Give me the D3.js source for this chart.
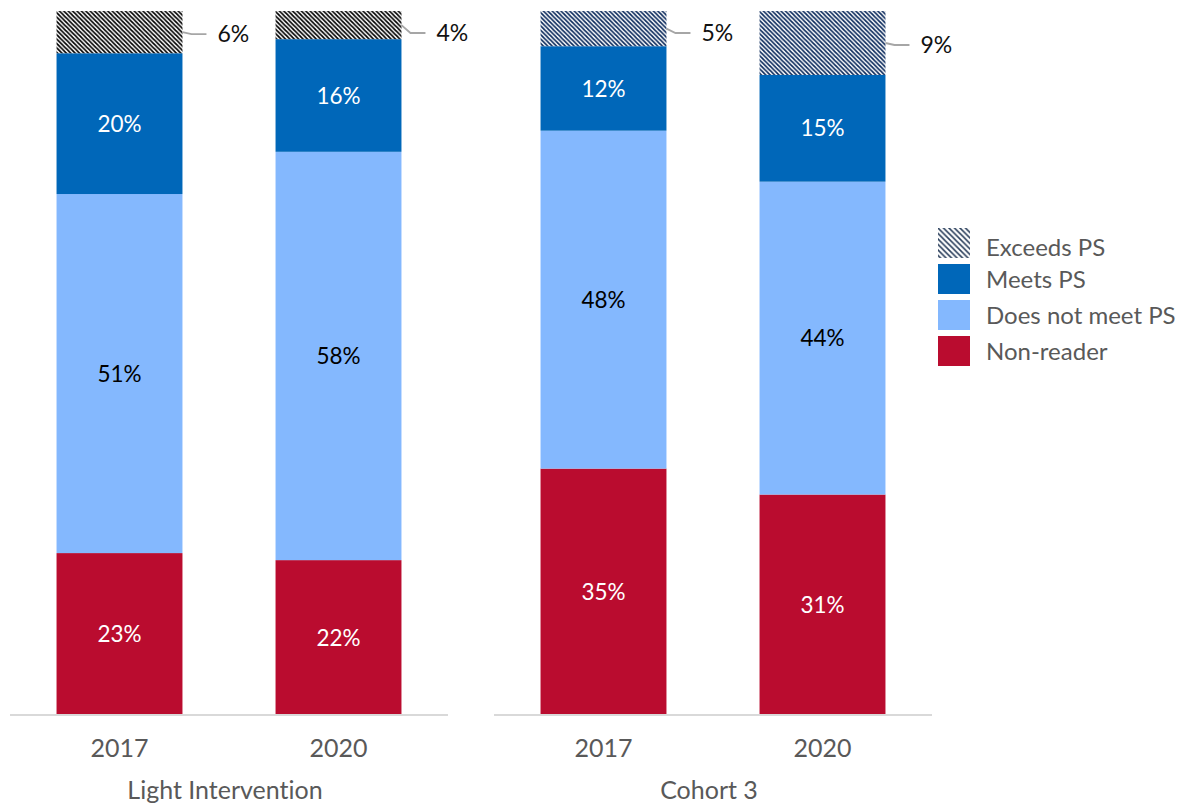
<!DOCTYPE html>
<html>
<head>
<meta charset="utf-8">
<script src="https://cdn.jsdelivr.net/npm/d3@7"></script>
<style>
  html, body { margin: 0; padding: 0; background: #fff; }
  svg { display: block; font-family: "Lato", "Noto Sans", sans-serif; font-variant-ligatures: none; font-feature-settings: "liga" 0; }
</style>
</head>
<body>
<svg id="chart" width="1188" height="805"></svg>
<script>
// Reading proficiency shares by group and year (percent)
const groups = ["Light Intervention", "Cohort 3"];
const years = ["2017", "2020"];
const levels = ["Non-reader", "Does not meet PS", "Meets PS", "Exceeds PS"];

const nonReader   = [[23, 22], [35, 31]];
const doesNotMeet = [[51, 58], [48, 44]];
const meets       = [[20, 16], [12, 15]];
const exceeds     = [[6, 4], [5, 9]];

const legendOrder = ["Exceeds PS", "Meets PS", "Does not meet PS", "Non-reader"];

const fills = {
  "Non-reader": "#ba0c2f",
  "Does not meet PS": "#84b8fe",
  "Meets PS": "#0067b9"
};
const labelInk = {
  "Non-reader": "#ffffff",
  "Does not meet PS": "#000000",
  "Meets PS": "#ffffff"
};
const hatchInk = ["#000000", "#0b2a5c"];

const svg = d3.select("#chart");
const defs = svg.append("defs");

// diagonal hatch for the "Exceeds" segment, one per panel ink + one for legend
function hatch(id, ink, size, sw) {
  const p = defs.append("pattern")
    .attr("id", id)
    .attr("patternUnits", "userSpaceOnUse")
    .attr("width", size).attr("height", size);
  p.append("rect").attr("width", size).attr("height", size).attr("fill", "#fff");
  p.append("path")
    .attr("d", `M0,0L${size},${size}M${-1},${size - 1}L1,${size + 1}M${size - 1},-1L${size + 1},1`)
    .attr("stroke", ink).attr("stroke-width", sw);
}
hatch("hatch0", hatchInk[0], 4.4, 1.7);
hatch("hatch1", hatchInk[1], 4.4, 1.7);
hatch("hatchLegend", "#2b3f5c", 5.5, 1.6);

const y = d3.scaleLinear().domain([0, 1]).range([715, 11]);

const panels = [
  { x0: 10, x1: 448 },
  { x0: 494, x1: 932 }
];

const stack = d3.stack()
  .keys(levels)
  .offset(d3.stackOffsetExpand);

groups.forEach((g, gi) => {
  const pan = panels[gi];
  const x = d3.scaleBand().domain(years).range([pan.x0, pan.x1])
    .paddingInner(0.425).paddingOuter(0.2125);

  const rows = years.map((yr, yi) => ({
    year: yr,
    "Non-reader": nonReader[gi][yi],
    "Does not meet PS": doesNotMeet[gi][yi],
    "Meets PS": meets[gi][yi],
    "Exceeds PS": exceeds[gi][yi]
  }));
  const series = stack(rows);

  const panel = svg.append("g");

  series.forEach(s => {
    const key = s.key;
    panel.selectAll(null).data(s).join("rect")
      .attr("x", d => x(d.data.year))
      .attr("width", x.bandwidth())
      .attr("y", d => y(d[1]))
      .attr("height", d => y(d[0]) - y(d[1]))
      .attr("fill", key === "Exceeds PS" ? `url(#hatch${gi})` : fills[key]);

    if (key !== "Exceeds PS") {
      panel.selectAll(null).data(s).join("text")
        .attr("x", d => x(d.data.year) + x.bandwidth() / 2)
        .attr("y", d => (y(d[0]) + y(d[1])) / 2)
        .attr("dy", "0.36em")
        .attr("text-anchor", "middle")
        .attr("font-size", 22.5)
        .attr("fill", labelInk[key])
        .text(d => d.data[key] + "%");
    } else {
      // values beside the bar with a leader line
      s.forEach(d => {
        const right = x(d.data.year) + x.bandwidth();
        const cy = (y(d[0]) + y(d[1])) / 2;
        const ly = Math.max(cy + 2, 33);
        panel.append("path")
          .attr("d", `M${right},${cy}L${right + 9},${ly}L${right + 24},${ly}`)
          .attr("fill", "none")
          .attr("stroke", "#a6a6a6")
          .attr("stroke-width", 1.8);
        panel.append("text")
          .attr("x", right + 35)
          .attr("y", ly)
          .attr("dy", "0.36em")
          .attr("font-size", 23)
          .attr("fill", "#111")
          .text(d.data[key] + "%");
      });
    }
  });

  // baseline and year ticks
  const axis = d3.axisBottom(x).tickSize(0).tickPadding(24);
  const ax = panel.append("g").attr("transform", "translate(0,715)").call(axis);
  ax.select(".domain").attr("stroke", "#d9d9d9").attr("stroke-width", 2)
    .attr("d", `M${pan.x0},0H${pan.x1}`);
  ax.selectAll(".tick text")
    .attr("font-size", 25)
    .attr("font-family", "Lato, 'Noto Sans', sans-serif")
    .attr("fill", "#595959");

  panel.append("text")
    .attr("x", (pan.x0 + pan.x1) / 2 - 4)
    .attr("y", 799)
    .attr("text-anchor", "middle")
    .attr("font-size", 25)
    .attr("fill", "#595959")
    .text(g);
});

// legend
const legend = svg.append("g").attr("transform", "translate(938,228)");
legendOrder.forEach((k, i) => {
  const row = legend.append("g").attr("transform", `translate(0,${i * 36})`);
  row.append("rect")
    .attr("width", 32).attr("height", 30)
    .attr("fill", k === "Exceeds PS" ? "url(#hatchLegend)" : fills[k]);
  row.append("text")
    .attr("x", 48)
    .attr("y", 15 + (i === 0 ? 4 : 0))
    .attr("dy", "0.36em")
    .attr("font-size", 24)
    .attr("fill", "#595959")
    .text(k);
});
</script>
</body>
</html>
